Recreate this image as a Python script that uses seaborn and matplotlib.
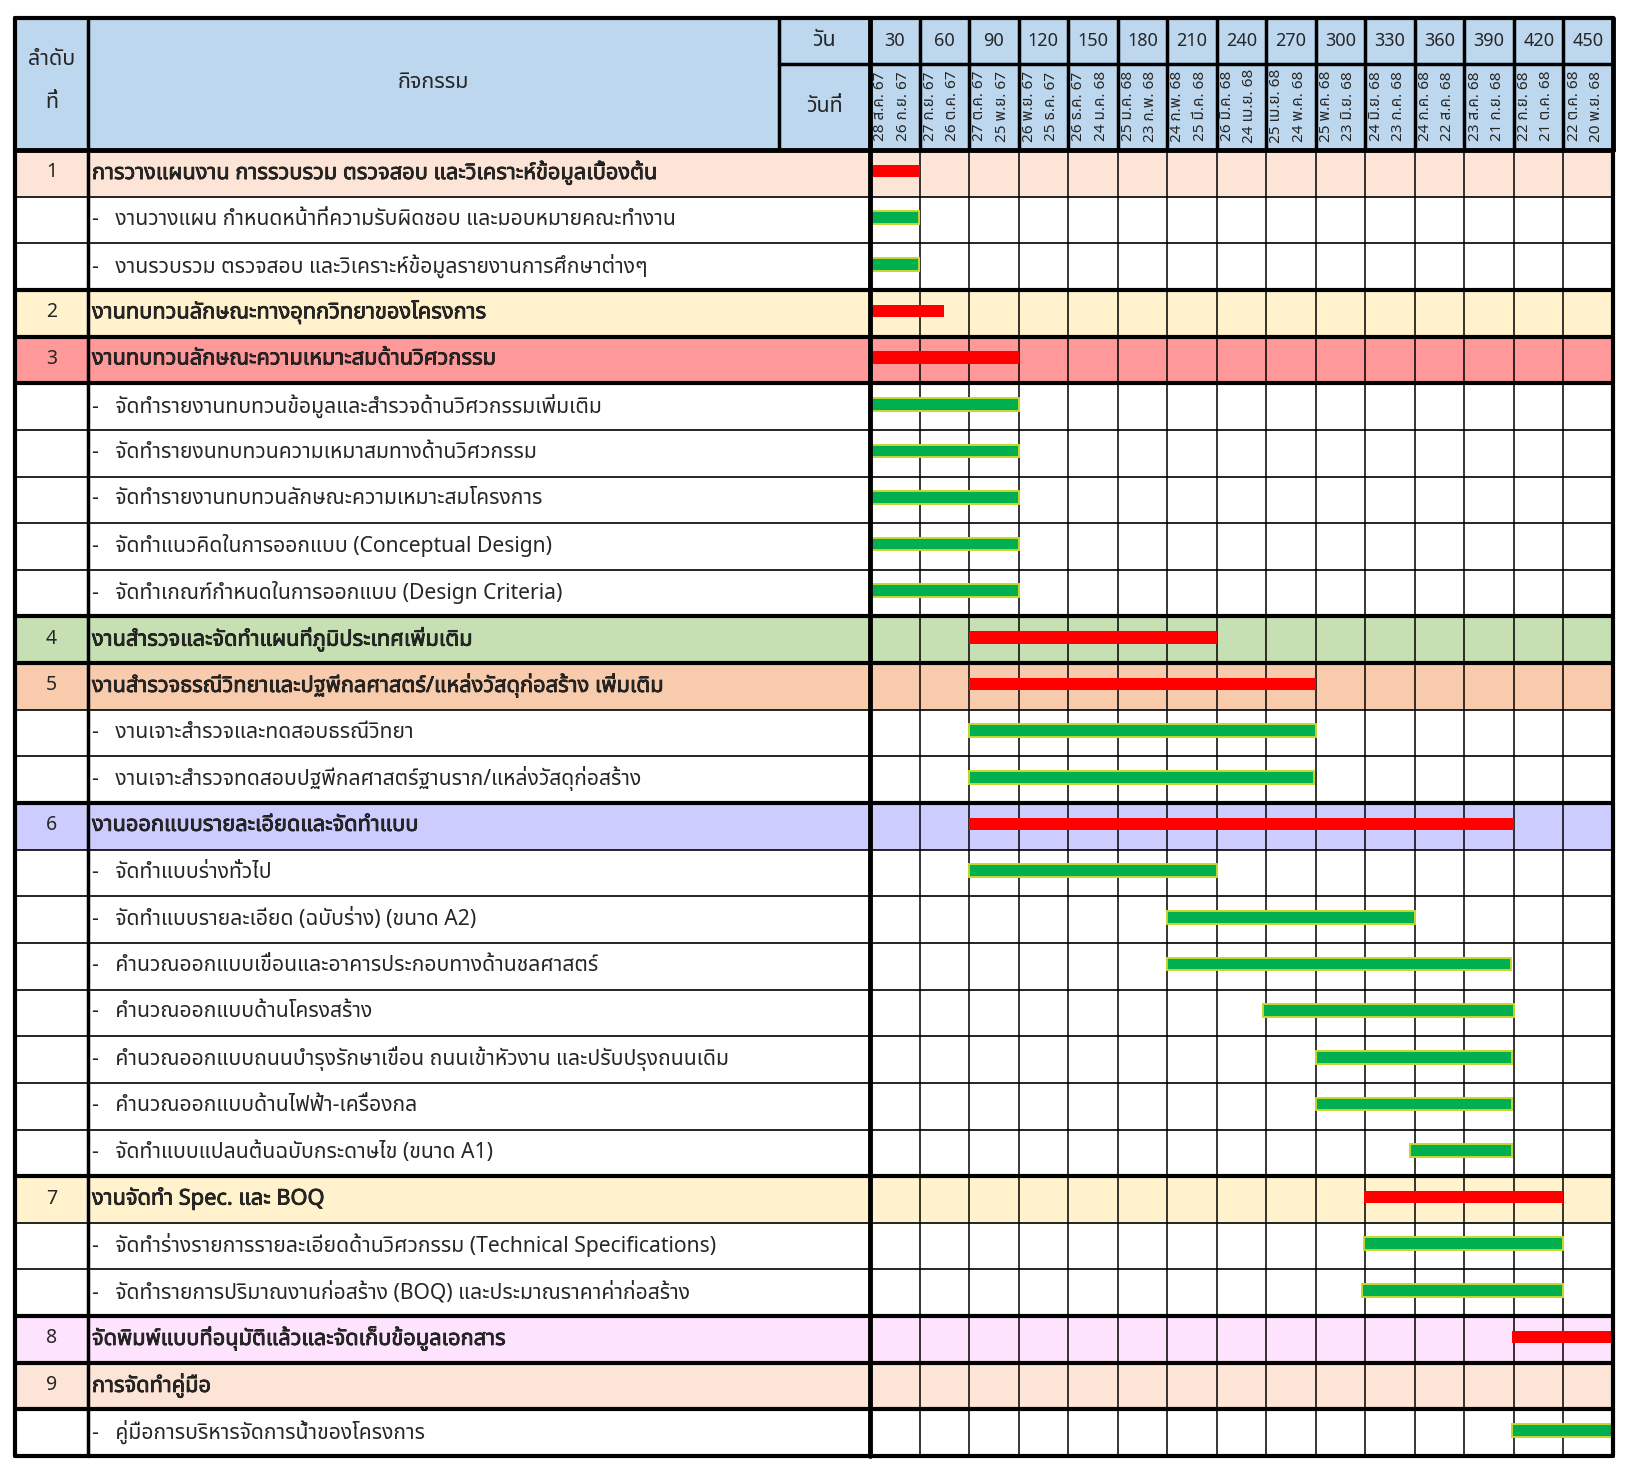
import matplotlib
matplotlib.use("Agg")
import numpy as np
import matplotlib.pyplot as plt
import matplotlib.patheffects as pe
import seaborn as sns
from matplotlib import font_manager
from matplotlib.ft2font import FT2Font

sns.set_style("white")


# find an installed family that has Thai glyphs
def pick_thai_font():
    prefer = ["Tahoma", "Noto Sans Thai", "Noto Sans Thai UI", "Sarabun", "Loma",
              "Garuda", "Waree", "Umpush", "Kinnari", "Norasi", "Laksaman", "TlwgTypist"]
    found = []
    for fe in font_manager.fontManager.ttflist:
        try:
            if 0x0E01 in FT2Font(fe.fname).get_charmap():
                found.append(fe.name)
        except Exception:
            pass
    for p in prefer:
        if p in found:
            return p
    return found[0] if found else "DejaVu Sans"


THAI = pick_thai_font()
plt.rcParams["font.family"] = [THAI, "DejaVu Sans"]

# ---- data ----
row_no = ["1", "", "", "2", "3", "", "", "", "", "", "4", "5", "", "",
          "6", "", "", "", "", "", "", "", "7", "", "", "8", "9", ""]

activities = [
    "การวางแผนงาน การรวบรวม ตรวจสอบ และวิเคราะห์ข้อมูลเบื้องต้น",
    "งานวางแผน กำหนดหน้าที่ความรับผิดชอบ และมอบหมายคณะทำงาน",
    "งานรวบรวม ตรวจสอบ และวิเคราะห์ข้อมูลรายงานการศึกษาต่างๆ",
    "งานทบทวนลักษณะทางอุทกวิทยาของโครงการ",
    "งานทบทวนลักษณะความเหมาะสมด้านวิศวกรรม",
    "จัดทำรายงานทบทวนข้อมูลและสำรวจด้านวิศวกรรมเพิ่มเติม",
    "จัดทำรายงนทบทวนความเหมาสมทางด้านวิศวกรรม",
    "จัดทำรายงานทบทวนลักษณะความเหมาะสมโครงการ",
    "จัดทำแนวคิดในการออกแบบ (Conceptual Design)",
    "จัดทำเกณฑ์กำหนดในการออกแบบ (Design Criteria)",
    "งานสำรวจและจัดทำแผนที่ภูมิประเทศเพิ่มเติม",
    "งานสำรวจธรณีวิทยาและปฐพีกลศาสตร์/แหล่งวัสดุก่อสร้าง เพิ่มเติม",
    "งานเจาะสำรวจและทดสอบธรณีวิทยา",
    "งานเจาะสำรวจทดสอบปฐพีกลศาสตร์ฐานราก/แหล่งวัสดุก่อสร้าง",
    "งานออกแบบรายละเอียดและจัดทำแบบ",
    "จัดทำแบบร่างทั่วไป",
    "จัดทำแบบรายละเอียด (ฉบับร่าง) (ขนาด A2)",
    "คำนวณออกแบบเขื่อนและอาคารประกอบทางด้านชลศาสตร์",
    "คำนวณออกแบบด้านโครงสร้าง",
    "คำนวณออกแบบถนนบำรุงรักษาเขื่อน ถนนเข้าหัวงาน และปรับปรุงถนนเดิม",
    "คำนวณออกแบบด้านไฟฟ้า-เครื่องกล",
    "จัดทำแบบแปลนต้นฉบับกระดาษไข (ขนาด A1)",
    "งานจัดทำ Spec. และ BOQ",
    "จัดทำร่างรายการรายละเอียดด้านวิศวกรรม (Technical Specifications)",
    "จัดทำรายการปริมาณงานก่อสร้าง (BOQ) และประมาณราคาค่าก่อสร้าง",
    "จัดพิมพ์แบบที่อนุมัติแล้วและจัดเก็บข้อมูลเอกสาร",
    "การจัดทำคู่มือ",
    "คู่มือการบริหารจัดการน้ำของโครงการ",
]

# bar start / end in days (nan = no bar)
bar_start = [0, 0, 0, 0, 0, 0, 0, 0, 0, 0, 60, 60, 60, 60,
             60, 60, 180, 180, 238, 270, 270, 327, 299, 299, 298, 389, np.nan, 389]
bar_end = [30, 29.5, 29.5, 45, 90, 90, 90, 90, 90, 90, 210, 270, 270, 269,
           390, 210, 330, 388, 390, 389, 389, 389, 420, 420, 420, 450, np.nan, 450]

head_colors = {0: "#FCE4D6", 3: "#FFF2CC", 4: "#FF9999", 10: "#C6E0B4", 11: "#F8CBAD",
               14: "#CCCCFF", 22: "#FFF2CC", 25: "#FDE3FE", 26: "#FCE4D6"}
thick_rows = [0, 3, 4, 5, 10, 11, 14, 22, 25, 26, 27, 28]

day_cols = list(range(30, 451, 30))
col_dates = [
    ("28 ส.ค. 67", "26 ก.ย. 67"), ("27 ก.ย. 67", "26 ต.ค. 67"), ("27 ต.ค. 67", "25 พ.ย. 67"),
    ("26 พ.ย. 67", "25 ธ.ค. 67"), ("26 ธ.ค. 67", "24 ม.ค. 68"), ("25 ม.ค. 68", "23 ก.พ. 68"),
    ("24 ก.พ. 68", "25 มี.ค. 68"), ("26 มี.ค. 68", "24 เม.ย. 68"), ("25 เม.ย. 68", "24 พ.ค. 68"),
    ("25 พ.ค. 68", "23 มิ.ย. 68"), ("24 มิ.ย. 68", "23 ก.ค. 68"), ("24 ก.ค. 68", "22 ส.ค. 68"),
    ("23 ส.ค. 68", "21 ก.ย. 68"), ("22 ก.ย. 68", "21 ต.ค. 68"), ("22 ต.ค. 68", "20 พ.ย. 68"),
]

HEAD_BLUE = "#BDD7EE"
RED = "#FF0000"
GREEN = "#00B050"
GREEN_EDGE = "#C8D62E"

# ---- layout (pixels) ----
W, H = 1632, 1475
X0, X1, X2, X3 = 15, 88, 870, 1613   # left edge, no. col, timeline start, right edge
XD = 779                              # start of วัน/วันที่ cell in header
Y0, YM, YH, YB = 18, 64, 150, 1456     # header top, header split, header bottom, table bottom
n = len(activities)
bold = [pe.withStroke(linewidth=0.5, foreground="black")]


def box(x_l, x_r, y_t, y_b):
    return [x_l / W, 1 - y_b / H, (x_r - x_l) / W, (y_b - y_t) / H]


fig = plt.figure(figsize=(W / 100, H / 100), dpi=100)
ax_tab = fig.add_axes(box(X0, X2, YH, YB))
ax_gan = fig.add_axes(box(X2, X3, YH, YB))
ax_hl = fig.add_axes(box(X0, X2, Y0, YH))
ax_ht = fig.add_axes(box(X2, X3, Y0, YH))

for ax in (ax_tab, ax_gan, ax_hl, ax_ht):
    ax.set_axis_off()

ax_tab.set_xlim(X0, X2)
ax_tab.set_ylim(n, 0)
ax_gan.set_xlim(0, 450)
ax_gan.set_ylim(n, 0)
ax_hl.set_xlim(X0, X2)
ax_hl.set_ylim(YH, Y0)
ax_ht.set_xlim(0, 450)
ax_ht.set_ylim(YH, Y0)

# ---- row backgrounds ----
for i, c in head_colors.items():
    ax_tab.axhspan(i, i + 1, color=c, zorder=0, lw=0)
    ax_gan.axhspan(i, i + 1, color=c, zorder=0, lw=0)

# ---- grid ----
for b in range(n + 1):
    lw = 3 if b in thick_rows else 1.2
    ax_tab.axhline(b, color="black", lw=lw, zorder=2, clip_on=False)
    ax_gan.axhline(b, color="black", lw=lw, zorder=2, clip_on=False)
ax_tab.axvline(X0, color="black", lw=3, zorder=2, clip_on=False)
ax_tab.axvline(X1, color="black", lw=2.5, zorder=2, clip_on=False)
for d in day_cols[:-1]:
    ax_gan.axvline(d, color="black", lw=1.1, zorder=2)
ax_gan.axvline(0, color="black", lw=3.5, zorder=4, clip_on=False)
ax_gan.axvline(450, color="black", lw=3, zorder=4, clip_on=False)

# ---- bars ----
ys = np.arange(n) + 0.45
for i in range(n):
    if np.isnan(bar_start[i]):
        continue
    head = row_no[i] != ""
    ax_gan.barh(ys[i], bar_end[i] - bar_start[i], left=bar_start[i], height=0.27,
                color=RED if head else GREEN,
                edgecolor=RED if head else GREEN_EDGE,
                linewidth=0 if head else 1.4, zorder=3)

# ---- table text ----
for i in range(n):
    yc = i + 0.48
    if row_no[i]:
        ax_tab.text((X0 + X1) / 2, yc, row_no[i], ha="center", va="center", fontsize=14)
        ax_tab.text(X1 + 4, yc, activities[i], ha="left", va="center",
                    fontsize=15.7, path_effects=bold)
    else:
        ax_tab.text(X1 + 4, yc, "-   " + activities[i], ha="left", va="center", fontsize=15.2)

# ---- header ----
ax_hl.axhspan(Y0, YH, color=HEAD_BLUE, zorder=0, lw=0)
ax_ht.axhspan(Y0, YH, color=HEAD_BLUE, zorder=0, lw=0)
for ax in (ax_hl, ax_ht):
    ax.axhline(Y0, color="black", lw=3, clip_on=False)
    ax.axhline(YH, color="black", lw=3.5, clip_on=False)
ax_hl.axvline(X0, color="black", lw=3, clip_on=False)
ax_hl.axvline(X1, color="black", lw=2.5)
ax_hl.axvline(XD, color="black", lw=2.5)
ax_hl.plot([XD, X2], [YM, YM], color="black", lw=2.5)
ax_ht.axhline(YM, color="black", lw=2.5)
for d in [0] + day_cols:
    ax_ht.axvline(d, color="black", lw=2.5 if 0 < d < 450 else 3.5, clip_on=False)

ax_hl.text((X0 + X1) / 2, 60, "ลำดับ", ha="center", va="center", fontsize=15.5)
ax_hl.text((X0 + X1) / 2, 103, "ที่", ha="center", va="center", fontsize=15.5)
ax_hl.text((X1 + XD) / 2, 82, "กิจกรรม", ha="center", va="center", fontsize=15.5)
ax_hl.text((XD + X2) / 2, 41, "วัน", ha="center", va="center", fontsize=15.5)
ax_hl.text((XD + X2) / 2, 106, "วันที่", ha="center", va="center", fontsize=15.5)

for d, (d1, d2) in zip(day_cols, col_dates):
    ax_ht.text(d - 15, 41, str(d), ha="center", va="center", fontsize=13)
    ax_ht.text(d - 23.5, 106, d1, ha="center", va="center", rotation=90, fontsize=11)
    ax_ht.text(d - 10, 106, d2, ha="center", va="center", rotation=90, fontsize=11)

fig.savefig("out.png", dpi=100, facecolor="white")
